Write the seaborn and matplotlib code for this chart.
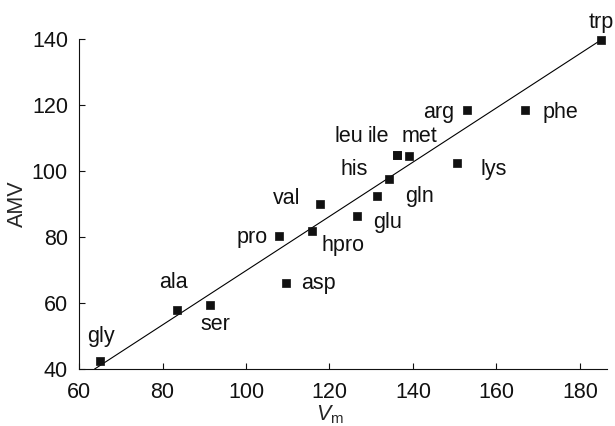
import numpy as np
import pandas as pd
import seaborn as sns
import matplotlib.pyplot as plt

# amino acid residues: molar volume Vm vs AMV
residues = ["gly", "ala", "ser", "pro", "asp", "hpro", "val", "glu", "gln",
            "his", "leu", "ile", "met", "lys", "arg", "phe", "trp"]
vm = [65.0, 83.5, 91.4, 108.0, 109.5, 115.9, 117.7, 126.5, 131.5,
      134.3, 136.1, 136.1, 139.1, 150.5, 153.0, 166.8, 185.0]
amv = [42.5, 58.0, 59.5, 80.2, 66.0, 81.9, 90.0, 86.3, 92.4,
       97.6, 104.8, 104.8, 104.5, 102.3, 118.5, 118.5, 139.7]

# fitted line as drawn in the figure
fit_slope = 0.822
fit_intercept = -12.4
fit_range = [63.7, 185.0]

df = pd.DataFrame({"residue": residues, "Vm": vm, "AMV": amv})

sns.set_style("ticks")
plt.rcParams["font.family"] = ["Liberation Sans", "DejaVu Sans"]
plt.rcParams["mathtext.fontset"] = "custom"
plt.rcParams["mathtext.rm"] = "Liberation Sans"
plt.rcParams["mathtext.it"] = "Liberation Sans:italic"

fig = plt.figure(figsize=(6.15, 4.26), dpi=100)
ax = fig.add_axes([0.1285, 0.1338, 0.8585, 0.7746])

line_x = np.array(fit_range)
sns.lineplot(x=line_x, y=fit_slope * line_x + fit_intercept, ax=ax,
             color="black", linewidth=0.8)
sns.scatterplot(data=df, x="Vm", y="AMV", ax=ax, marker="s", s=36,
                color="#111111", edgecolor="#111111", linewidth=0.5,
                clip_on=False, zorder=3)

# label placement (ha, dx, dy in pixels from marker; dy to text baseline)
label_pos = {
    "gly": ("center", 1, 19), "ala": ("center", -4, 22), "ser": ("center", 5, -25),
    "pro": ("right", -12, -7), "asp": ("left", 15, -6), "hpro": ("left", 9, -20),
    "val": ("right", -19, 0), "glu": ("left", 17, -12), "gln": ("left", 28, -6),
    "his": ("right", -21, 4), "leu": ("center", -48, 13), "ile": ("center", -18, 13),
    "met": ("center", 10, 14), "lys": ("left", 24, -12), "arg": ("right", -13, -8),
    "phe": ("left", 18, -8), "trp": ("center", 1, 12),
}
for name, x, y in zip(residues, vm, amv):
    ha, dx, dy = label_pos[name]
    ax.annotate(name, (x, y), xytext=(dx, dy), textcoords="offset pixels",
                ha=ha, va="baseline", fontsize=15.5, color="#111111")

ax.set_xlim(60, 186.5)
ax.set_ylim(40, 140)
ax.set_xticks([60, 80, 100, 120, 140, 160, 180])
ax.set_yticks([40, 60, 80, 100, 120, 140])
ax.tick_params(direction="in", length=4, width=0.8, labelsize=15.5,
               colors="#111111")
ax.tick_params(axis="x", pad=9)
ax.tick_params(axis="y", pad=8)
for side in ["left", "bottom"]:
    ax.spines[side].set_linewidth(0.8)
    ax.spines[side].set_color("#111111")
sns.despine(ax=ax)

ax.set_xlabel(r"$\mathit{V}_{\mathrm{m}}$", fontsize=15.5, labelpad=0)
ax.set_ylabel("AMV", fontsize=15.5, labelpad=3)
ax.xaxis.set_label_coords(0.475, -0.105)

fig.savefig("out.png", dpi=100)
